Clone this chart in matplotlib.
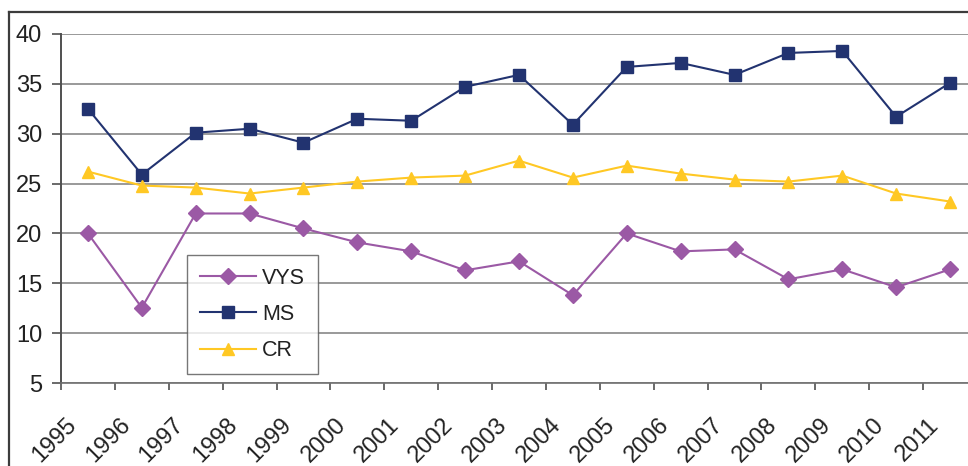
import numpy as np
import matplotlib
matplotlib.use("Agg")
import matplotlib.pyplot as plt
import matplotlib.transforms as mtransforms
from matplotlib.lines import Line2D

plt.rcParams['font.family'] = ['Liberation Sans', 'DejaVu Sans']

# data
years = [str(y) for y in range(1995, 2012)]
vys = [20.0, 12.55, 22.0, 22.0, 20.5, 19.1, 18.2, 16.3, 17.2, 13.8,
       20.0, 18.2, 18.4, 15.4, 16.4, 14.6, 16.4]
ms = [32.5, 25.9, 30.1, 30.5, 29.1, 31.5, 31.3, 34.7, 35.9, 30.9,
      36.7, 37.1, 35.9, 38.1, 38.3, 31.7, 35.1]
cr = [26.2, 24.8, 24.6, 24.0, 24.6, 25.2, 25.6, 25.8, 27.3, 25.6,
      26.8, 26.0, 25.4, 25.2, 25.8, 24.0, 23.2]
yticks = [5, 10, 15, 20, 25, 30, 35, 40]

W, H = 968, 466
fig = plt.figure(figsize=(W / 100, H / 100), dpi=100)
ax = fig.add_axes([61 / W, 1 - 383 / H, 916 / W, 349 / H])

# outer frame (cropped on right/bottom)
fig.add_artist(Line2D([9 / W, 9 / W], [0, 1 - 12 / H], transform=fig.transFigure,
                      color='#3c3c3c', lw=1.6))
fig.add_artist(Line2D([9 / W, 1], [1 - 12 / H, 1 - 12 / H], transform=fig.transFigure,
                      color='#3c3c3c', lw=1.6))

x = np.arange(len(years))
ax.plot(x, vys, color='#9b59a5', lw=1.5, marker='D', ms=8, label='VYS')
ax.plot(x, ms, color='#223370', lw=1.5, marker='s', ms=8, label='MS')
ax.plot(x, cr, color='#ffc824', lw=1.5, marker='^', ms=9, label='CR')

ax.set_xlim(-0.5, len(years) - 0.5)
ax.set_ylim(5, 40)
ax.set_yticks(yticks)
ax.tick_params(axis='y', labelsize=17, length=6.5, width=1.2, color='#505050',
               pad=7, labelcolor='#222222')
ax.grid(axis='y', color='#888888', lw=1.2)
ax.set_axisbelow(True)

# tick marks at category boundaries, labels at centres
ax.set_xticks(np.arange(len(years) + 1) - 0.5)
ax.set_xticklabels([])
ax.set_xticks(x, minor=True)
ax.set_xticklabels(years, minor=True)
ax.tick_params(axis='x', which='major', length=5, width=1.2, color='#505050')
ax.tick_params(axis='x', which='minor', length=0, pad=28, labelsize=17,
               labelcolor='#222222')
offset = mtransforms.ScaledTranslation(-0.15, 0, fig.dpi_scale_trans)
for lab in ax.get_xticklabels(minor=True):
    lab.set_rotation(45)
    lab.set_ha('right')
    lab.set_va('center')
    lab.set_rotation_mode('anchor')
    lab.set_transform(lab.get_transform() + offset)

for s in ['top', 'right']:
    ax.spines[s].set_visible(False)
ax.spines['left'].set_color('#505050')
ax.spines['left'].set_linewidth(1.4)
ax.spines['bottom'].set_color('#707070')
ax.spines['bottom'].set_linewidth(1.2)

leg = ax.legend(loc='upper left', bbox_to_anchor=(187 / W, 1 - 255 / H),
                bbox_transform=fig.transFigure, borderaxespad=0, fontsize=15.5,
                frameon=True, fancybox=False, edgecolor='#555555',
                handlelength=2.6, labelspacing=0.7, borderpad=0.6,
                handletextpad=0.3)
leg.get_frame().set_linewidth(1.0)
for t in leg.get_texts():
    t.set_color('#222222')

fig.savefig('out.png', dpi=100)
